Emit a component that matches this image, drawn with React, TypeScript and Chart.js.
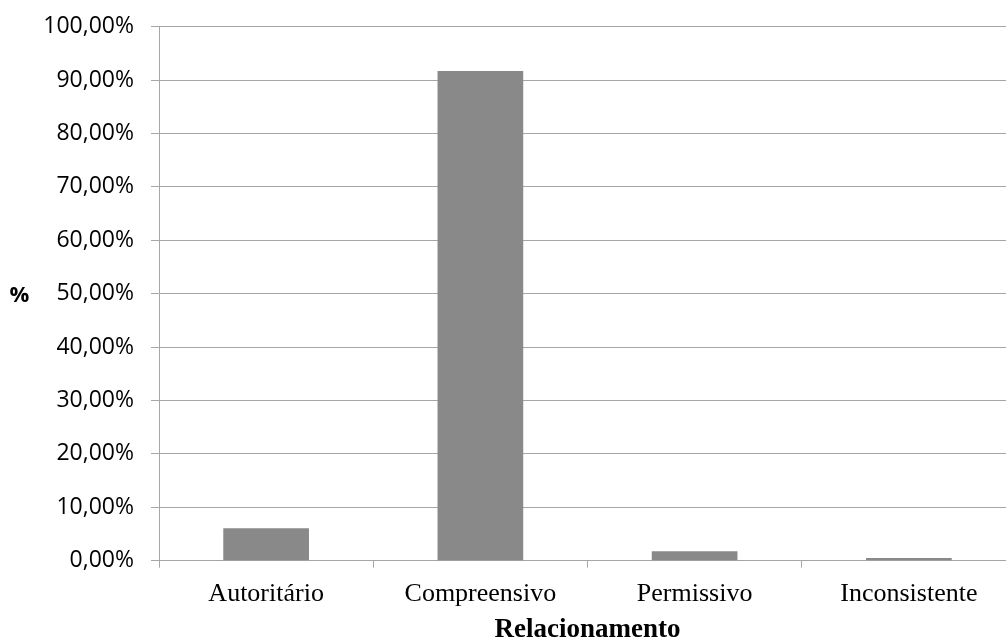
import React, { useEffect, useRef } from "react";
import { Chart, registerables } from "chart.js";

Chart.register(...registerables);

const categories = ["Autoritário", "Compreensivo", "Permissivo", "Inconsistente"];
const percentValues = [6.07, 91.7, 1.76, 0.5];
const yTitle = "%";
const xTitle = "Relacionamento";

const GRID = "#a6a6a6";

const yTitlePlugin = {
  id: "yTitleHorizontal",
  afterDraw(chart: any) {
    const ctx = chart.ctx;
    const y = chart.scales.y.getPixelForValue(50);
    ctx.save();
    ctx.font = "bold 22px 'Open Sans'";
    ctx.fillStyle = "#000";
    ctx.textAlign = "center";
    ctx.textBaseline = "middle";
    ctx.fillText(yTitle, 19.5, y + 2);
    ctx.restore();
  },
};

export default function App() {
  const ref = useRef<HTMLCanvasElement>(null);
  useEffect(() => {
    document.body.style.overflow = "hidden";
    const chart = new Chart(ref.current!, {
      type: "bar",
      data: {
        labels: categories,
        datasets: [
          {
            data: percentValues,
            backgroundColor: "#898989",
            borderWidth: 0,
            categoryPercentage: 1,
            barPercentage: 0.4,
          },
        ],
      },
      options: {
        animation: false,
        responsive: false,
        layout: { padding: { top: 26.7, right: 4, left: 0, bottom: 0 } },
        plugins: { legend: { display: false }, tooltip: { enabled: false } },
        scales: {
          x: {
            grid: {
              offset: true,
              drawOnChartArea: false,
              drawTicks: true,
              tickLength: 7,
              color: GRID,
              lineWidth: 1,
            },
            border: { display: true, color: GRID, width: 1 },
            ticks: {
              color: "#000",
              font: { family: "'Liberation Serif'", size: 26 },
              padding: 11,
              maxRotation: 0,
            },
            title: {
              display: true,
              text: xTitle,
              color: "#000",
              font: { family: "'Liberation Serif'", size: 27, weight: "bold", lineHeight: 0.5 },
              padding: { top: 0, bottom: 4 },
            },
            afterFit(scale: any) {
              scale.height = 641 - 560.7;
            },
          },
          y: {
            min: 0,
            max: 100,
            ticks: {
              stepSize: 10,
              color: "#000",
              font: { family: "'Open Sans'", size: 23, lineHeight: 0.8 },
              padding: 17,
              callback: (v: any) => Number(v).toFixed(2).replace(".", ",") + "%",
            },
            grid: { color: GRID, lineWidth: 1, drawTicks: true, tickLength: 8 },
            border: { display: true, color: GRID, width: 1 },
            afterFit(scale: any) {
              scale.width = 159;
            },
          },
        },
      },
      plugins: [yTitlePlugin],
    });
    return () => chart.destroy();
  }, []);
  return (
    <div style={{ position: "fixed", left: 0, top: 0, width: 1020, height: 641, background: "#fff" }}>
      <canvas ref={ref} width={1020} height={641} style={{ width: 1020, height: 641 }} />
    </div>
  );
}
